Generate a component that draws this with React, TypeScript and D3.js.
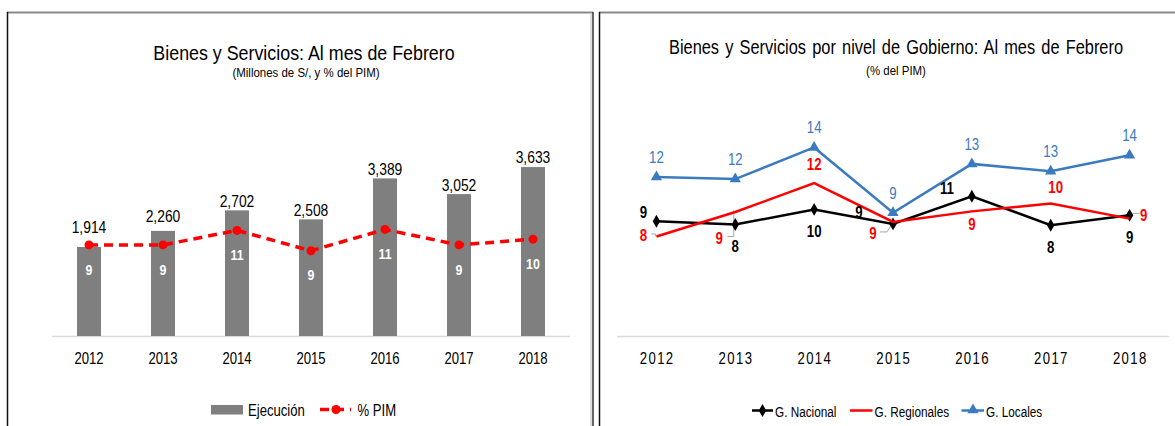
import React from 'react';
import * as d3 from 'd3';

// ---------- data ----------
const years = ['2012', '2013', '2014', '2015', '2016', '2017', '2018'];
const ejecucion = [1914, 2260, 2702, 2508, 3389, 3052, 3633];
const pctPim = [9.4, 9.4, 10.9, 8.8, 11.0, 9.4, 10.0];

const gNacional = [8.7, 8.45, 9.6, 8.5, 10.6, 8.4, 9.15];
const gRegionales = [7.55, 9.4, 11.6, 8.65, 9.45, 10.05, 8.9];
const gLocales = [12.05, 11.9, 14.3, 9.35, 13.05, 12.5, 13.7];

const leftTitle = 'Bienes y Servicios: Al mes de Febrero';
const leftSubtitle = '(Millones de S/, y % del PIM)';
const rightTitle = 'Bienes y Servicios por nivel de Gobierno: Al mes de Febrero';
const rightSubtitle = '(% del PIM)';

// ---------- styles / label placement ----------
const FONT = "'Liberation Sans', Arial, sans-serif";
const BAR = '#7f7f7f';
const RED = '#ff0000';
const BLUE = '#3a7bbf';
const BLACK = '#000000';

// lift of the value label centre above each bar top
const barLabelLift = [20, 15, 9, 9, 9, 9, 10];
// label offsets (dx, dy of label centre from point), right chart
const nacOff: [number, number][] = [[-13, -9], [0, 22], [0, 22], [-34, -12], [-25, -8], [0, 21.5], [0, 21.5]];
const regOff: [number, number][] = [[-13, -1], [-16, 26], [0, -19], [-20, 11], [0, 13], [5, -16], [14, -4]];
const locOff: [number, number][] = [[0, -20], [0, -20], [0, -20], [0, -20], [0, -20], [0, -20], [0, -20]];

type TProps = {
  x: number;
  y: number;
  size: number;
  sx?: number;
  anchor?: 'start' | 'middle' | 'end';
  fill?: string;
  bold?: boolean;
  ls?: number;
  ws?: number;
  children: React.ReactNode;
};

// narrow text: Liberation Sans condensed horizontally (Arial Narrow look)
function T({ x, y, size, sx = 0.82, anchor = 'start', fill = '#000', bold = false, ls, ws, children }: TProps) {
  return (
    <text
      transform={`translate(${x},${y}) scale(${sx},1)`}
      textAnchor={anchor}
      fontFamily={FONT}
      fontSize={size}
      fontWeight={bold ? 'bold' : 'normal'}
      fill={fill}
      letterSpacing={ls}
      wordSpacing={ws}
    >
      {children}
    </text>
  );
}

const fmt = d3.format(',');
const fmt0 = d3.format('.0f');

function LeftChart() {
  const x = d3.scaleBand<string>().domain(years).range([52, 570]).padding(0);
  const y = d3.scaleLinear().domain([0, 4000]).range([336, 150]);
  const y2 = d3.scaleLinear().domain([0, 19.2]).range([336, 150]);
  const cx = (i: number) => (x(years[i]) as number) + x.bandwidth() / 2;
  const barW = 24;
  const line = d3
    .line<number>()
    .x((_, i) => cx(i))
    .y((d) => y2(d));
  return (
    <g>
      {/* frame */}
      <line x1={7} y1={12.5} x2={593} y2={12.5} stroke="#8a8a8a" strokeWidth={2} />
      <line x1={7.5} y1={12} x2={7.5} y2={426} stroke="#111" strokeWidth={1.5} />
      <line x1={593} y1={12} x2={593} y2={426} stroke="#333" strokeWidth={1.5} />
      <line x1={591} y1={14} x2={591} y2={426} stroke="#bbb" strokeWidth={1} />

      <T x={304} y={60} size={21} sx={0.85} anchor="middle">
        {leftTitle}
      </T>
      <T x={306} y={76.5} size={13.5} sx={0.85} anchor="middle">
        {leftSubtitle}
      </T>

      {/* axis line */}
      <line x1={52} x2={570} y1={336.5} y2={336.5} stroke="#d9d9d9" strokeWidth={1.5} />

      {ejecucion.map((v, i) => (
        <rect key={'b' + i} x={cx(i) - barW / 2} y={y(v)} width={barW} height={y(0) - y(v)} fill={BAR} />
      ))}
      {ejecucion.map((v, i) => (
        <T key={'bl' + i} x={cx(i)} y={y(v) - barLabelLift[i] + 5.9} size={16.5} sx={0.84} anchor="middle">
          {fmt(v)}
        </T>
      ))}

      <path d={line(pctPim) as string} fill="none" stroke={RED} strokeWidth={3.5} strokeDasharray="9 6" />
      {pctPim.map((v, i) => (
        <circle key={'c' + i} cx={cx(i)} cy={y2(v)} r={4.5} fill={RED} />
      ))}
      {pctPim.map((v, i) => (
        <T key={'pl' + i} x={cx(i)} y={y2(v) + 24 + 5.6} size={15.5} sx={0.8} anchor="middle" bold fill="#fff">
          {fmt0(v)}
        </T>
      ))}

      {years.map((yr, i) => (
        <T key={'yl' + i} x={cx(i)} y={363.5} size={16} sx={0.82} anchor="middle">
          {yr}
        </T>
      ))}

      {/* legend */}
      <rect x={211} y={405} width={32} height={9.5} fill={BAR} />
      <T x={248} y={416} size={16} sx={0.82}>
        Ejecución
      </T>
      <line x1={320} x2={351} y1={409.5} y2={409.5} stroke={RED} strokeWidth={3.5} strokeDasharray="9 6" />
      <circle cx={336} cy={409.5} r={4.5} fill={RED} />
      <T x={357.5} y={416} size={16} sx={0.82}>
        % PIM
      </T>
    </g>
  );
}

function RightChart() {
  const x = d3.scaleBand<string>().domain(years).range([617, 1169]).padding(0);
  const y = d3.scaleLinear().domain([0, 16]).range([336, 125]);
  const cx = (i: number) => (x(years[i]) as number) + x.bandwidth() / 2;
  const line = d3
    .line<number>()
    .x((_, i) => cx(i))
    .y((d) => y(d));
  const diamond = d3.symbol().type(d3.symbolDiamond).size(48)() as string;
  const tri = d3.symbol().type(d3.symbolTriangle).size(55)() as string;

  const series = [
    { vals: gNacional, color: BLACK, off: nacOff, bold: true, marker: diamond },
    { vals: gRegionales, color: RED, off: regOff, bold: true, marker: null },
    { vals: gLocales, color: BLUE, off: locOff, bold: false, marker: tri },
  ];

  const pt = (s: number[], i: number): [number, number] => [cx(i), y(s[i])];
  // leader lines (gray) next to displaced labels
  const leaders: string[] = [];
  {
    const [px, py] = pt(gRegionales, 0);
    leaders.push(`M${px - 5},${py - 2.5}H${px - 1}V${py}`);
  }
  {
    const [px, py] = pt(gRegionales, 1);
    leaders.push(`M${px - 1.5},${py - 2}V${py + 24.5}H${px - 8}`);
  }
  {
    const [px, py] = pt(gRegionales, 3);
    leaders.push(`M${px - 13},${py + 10}H${px - 6}L${px - 1},${py + 2}`);
  }
  {
    const [px, py] = pt(gNacional, 6);
    leaders.push(`M${px + 3},${py - 2}H${px + 10}`);
  }

  return (
    <g>
      <line x1={599} y1={12.5} x2={1175} y2={12.5} stroke="#8a8a8a" strokeWidth={2} />
      <line x1={599.5} y1={12} x2={599.5} y2={426} stroke="#111" strokeWidth={1.5} />

      <T x={896} y={53.5} size={20.5} sx={0.8} anchor="middle" ws={2}>
        {rightTitle}
      </T>
      <T x={896} y={74.5} size={13.5} sx={0.85} anchor="middle">
        {rightSubtitle}
      </T>

      <line x1={617} x2={1169} y1={336.5} y2={336.5} stroke="#d9d9d9" strokeWidth={1.5} />

      {years.map((yr, i) => (
        <T key={'yr' + i} x={cx(i) + 0.7} y={364} size={16} sx={0.82} anchor="middle" ls={1.7}>
          {yr}
        </T>
      ))}

      {leaders.map((d, i) => (
        <path key={'ld' + i} d={d} fill="none" stroke="#a6a6a6" strokeWidth={1} />
      ))}

      {series.map((s, k) => (
        <g key={'s' + k}>
          <path d={line(s.vals) as string} fill="none" stroke={s.color} strokeWidth={2.5} />
          {s.marker &&
            s.vals.map((v, i) => (
              <path key={'m' + i} d={s.marker as string} transform={`translate(${cx(i)},${y(v)})`} fill={s.color} />
            ))}
        </g>
      ))}

      {series.map((s, k) =>
        s.vals.map((v, i) => (
          <T
            key={'t' + k + '-' + i}
            x={cx(i) + s.off[i][0]}
            y={y(v) + s.off[i][1] + 5.9}
            size={16.5}
            sx={0.8}
            anchor="middle"
            bold={s.bold}
            fill={s.color}
          >
            {fmt0(v)}
          </T>
        ))
      )}

      {/* legend */}
      <line x1={752} x2={773} y1={410.5} y2={410.5} stroke={BLACK} strokeWidth={2.5} />
      <path d={diamond} transform="translate(762.5,410.5)" fill={BLACK} />
      <T x={775} y={416.5} size={15.5} sx={0.76}>
        G. Nacional
      </T>
      <line x1={850} x2={872.5} y1={410.5} y2={410.5} stroke={RED} strokeWidth={2.5} />
      <T x={874.5} y={416.5} size={15.5} sx={0.76}>
        G. Regionales
      </T>
      <line x1={961.5} x2={984} y1={410.5} y2={410.5} stroke={BLUE} strokeWidth={2.5} />
      <path d={tri} transform="translate(973,410)" fill={BLUE} />
      <T x={986} y={416.5} size={15.5} sx={0.76}>
        G. Locales
      </T>
    </g>
  );
}

export default function App() {
  return (
    <svg
      width={1175}
      height={426}
      viewBox="0 0 1175 426"
      style={{ position: 'absolute', left: 0, top: 0, background: '#fff' }}
    >
      <rect width={1175} height={426} fill="#fff" />
      <LeftChart />
      <RightChart />
    </svg>
  );
}
